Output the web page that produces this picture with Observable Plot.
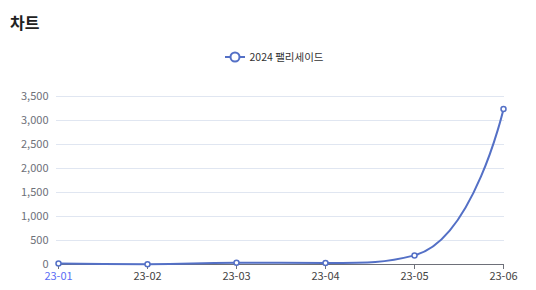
<!DOCTYPE html>
<html><head><meta charset="utf-8">
<script src="https://cdn.jsdelivr.net/npm/d3@7"></script>
<script src="https://cdn.jsdelivr.net/npm/@observablehq/plot@0.6"></script>
<style>
body{margin:0;background:#fff;font-family:"Noto Sans CJK KR","Noto Sans",sans-serif;width:536px;height:290px;position:relative;overflow:hidden;}
#title{position:absolute;left:10px;top:12px;font-size:16px;font-weight:bold;color:#222;line-height:20px;}
#legend{position:absolute;top:48px;left:6px;width:536px;display:flex;justify-content:center;align-items:center;font-size:10.5px;color:#333;line-height:18px;}
#legend svg{margin-right:5px;}
#chart{position:absolute;top:75px;left:0;}
</style></head><body>
<div id="title"></div>
<div id="legend"></div>
<div id="chart"></div>
<script>
const titleText = "차트";
const seriesName = "2024 팰리세이드";
const months = ["23-01","23-02","23-03","23-04","23-05","23-06"];
const sales = [20, 5, 38, 30, 190, 3240];
const yTicks = [0, 500, 1000, 1500, 2000, 2500, 3000, 3500];
const lineColor = "#5470c6";

document.getElementById("title").textContent = titleText;
const lg = document.getElementById("legend");
lg.innerHTML = `<svg width="20" height="14"><line x1="0" x2="20" y1="7" y2="7" stroke="${lineColor}" stroke-width="2"/><circle cx="10" cy="7" r="4.5" fill="#fff" stroke="${lineColor}" stroke-width="2"/></svg><span></span>`;
lg.querySelector("span").textContent = seriesName;

// Smooth bezier curve in the style of ECharts' smooth line (smooth = 0.5)
function smoothCurve(context) {
  let pts = [];
  const smooth = 0.5;
  function draw() {
    const n = pts.length;
    if (!n) return;
    let prevX, prevY, cpx0, cpy0;
    for (let k = 0; k < n; k++) {
      const [x, y] = pts[k];
      if (k === 0) { context.moveTo(x, y); cpx0 = x; cpy0 = y; }
      else {
        let cpx1, cpy1, nCpx0, nCpy0;
        if (k === n - 1) { cpx1 = x; cpy1 = y; }
        else {
          const [nx, ny] = pts[k + 1];
          let vx = nx - prevX, vy = ny - prevY;
          const dx0 = x - prevX, dy0 = y - prevY, dx1 = nx - x, dy1 = ny - y;
          const lp = Math.hypot(dx0, dy0), ln = Math.hypot(dx1, dy1);
          const r = ln / (ln + lp);
          nCpx0 = x + vx * smooth * r; nCpy0 = y + vy * smooth * r;
          nCpx0 = Math.max(Math.min(nCpx0, Math.max(nx, x)), Math.min(nx, x));
          nCpy0 = Math.max(Math.min(nCpy0, Math.max(ny, y)), Math.min(ny, y));
          vx = nCpx0 - x; vy = nCpy0 - y;
          cpx1 = x - vx * lp / ln; cpy1 = y - vy * lp / ln;
          cpx1 = Math.max(Math.min(cpx1, Math.max(prevX, x)), Math.min(prevX, x));
          cpy1 = Math.max(Math.min(cpy1, Math.max(prevY, y)), Math.min(prevY, y));
          vx = x - cpx1; vy = y - cpy1;
          nCpx0 = x + vx * ln / lp; nCpy0 = y + vy * ln / lp;
        }
        context.bezierCurveTo(cpx0, cpy0, cpx1, cpy1, x, y);
        cpx0 = nCpx0; cpy0 = nCpy0;
      }
      prevX = x; prevY = y;
    }
  }
  return {
    areaStart() {}, areaEnd() {},
    lineStart() { pts = []; },
    point(x, y) { pts.push([+x, +y]); },
    lineEnd() { draw(); }
  };
}

const data = months.map((m, i) => ({month: m, value: sales[i]}));

const chart = Plot.plot({
  width: 536, height: 215,
  marginTop: 21, marginBottom: 26, marginLeft: 56, marginRight: 32,
  style: {fontFamily: '"Noto Sans CJK KR","Noto Sans",sans-serif', fontSize: "11px", background: "#fff"},
  x: {type: "point", domain: months, padding: 0},
  y: {domain: [0, 3500]},
  marks: [
    Plot.gridY(yTicks.filter(d => d > 0), {stroke: "#e0e6f1", strokeOpacity: 1}),
    Plot.ruleY([0], {stroke: "#6e7079"}),
    Plot.axisX(months.slice(1), {tickSize: 5, tickPadding: 3, stroke: "#6e7079", fill: "#444", label: null}),
    Plot.axisX([months[0]], {tickSize: 5, tickPadding: 3, stroke: "#6e7079", fill: "#5b6ef5", label: null}),
    Plot.axisY(yTicks, {tickSize: 0, tickPadding: 8, tickFormat: d3.format(","), fill: "#6e7079", label: null}),
    Plot.line(data, {x: "month", y: "value", curve: smoothCurve, stroke: lineColor, strokeWidth: 2}),
    Plot.dot(data, {x: "month", y: "value", r: 2.5, fill: "#fff", stroke: lineColor, strokeWidth: 1.5})
  ]
});
document.getElementById("chart").appendChild(chart);
</script>
</body></html>
